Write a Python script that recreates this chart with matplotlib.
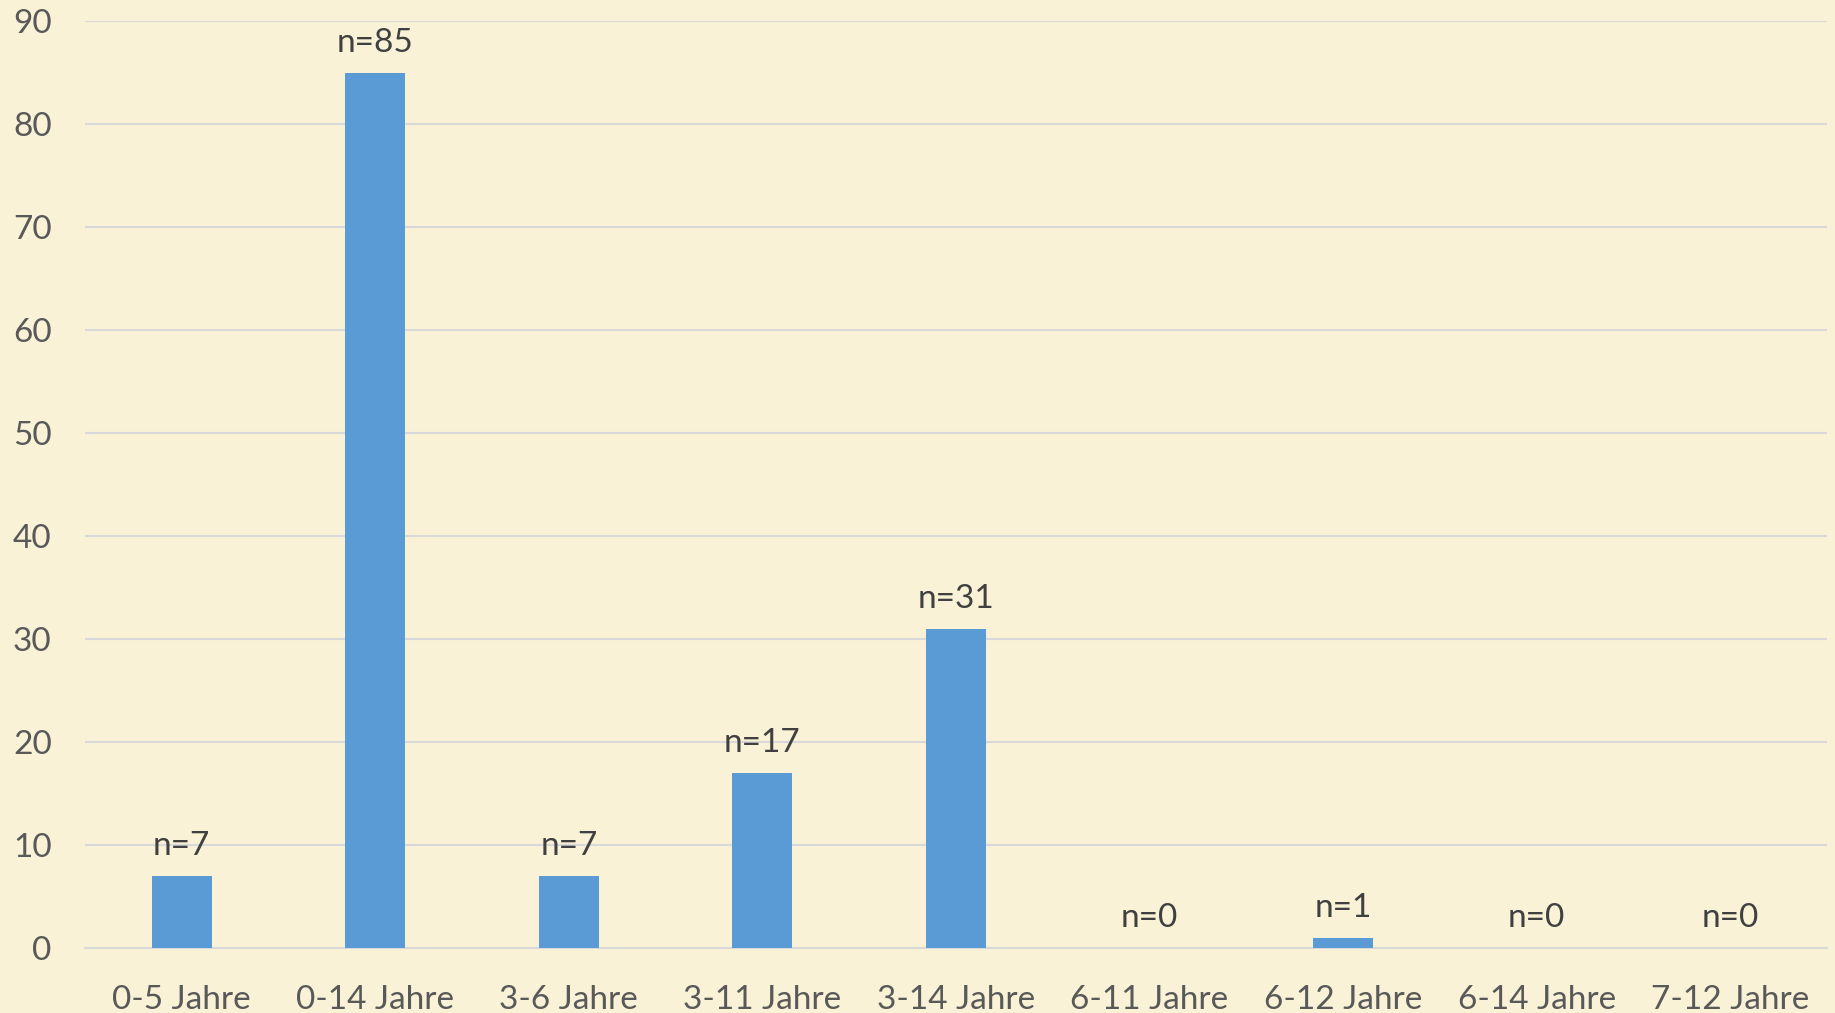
import numpy as np
import matplotlib.pyplot as plt

plt.rcParams["font.family"] = ["Lato", "DejaVu Sans"]

# Daten
categories = ["0-5 Jahre", "0-14 Jahre", "3-6 Jahre", "3-11 Jahre", "3-14 Jahre",
              "6-11 Jahre", "6-12 Jahre", "6-14 Jahre", "7-12 Jahre"]
counts = [7, 85, 7, 17, 31, 0, 1, 0, 0]
y_ticks = [0, 10, 20, 30, 40, 50, 60, 70, 80, 90]

bg = "#F9F2D6"
bar_color = "#5B9BD5"
grid_color = "#D9D9D9"

fig = plt.figure(figsize=(18.35, 10.13), dpi=100, facecolor=bg)
ax = fig.add_axes([0.0463, 0.0642, 0.9493, 0.9148], facecolor=bg)

x = np.arange(len(categories))
ax.bar(x, counts, width=0.31, color=bar_color, zorder=3)

for xi, v in zip(x, counts):
    ax.annotate(f"n={v}", (xi, v), xytext=(0, 21.5), textcoords="offset points",
                ha="center", va="center", fontsize=24, color="#404040")

ax.set_xlim(-0.5, len(categories) - 0.5)
ax.set_ylim(0, 90)
ax.set_yticks(y_ticks)
ax.set_xticks(x)
ax.set_xticklabels(categories)
ax.tick_params(axis="both", length=0, labelsize=24, labelcolor="#595959")
ax.tick_params(axis="y", pad=24)
ax.tick_params(axis="x", pad=27)
ax.grid(axis="y", color=grid_color, linewidth=1.5, zorder=0)
for s in ["top", "right", "left"]:
    ax.spines[s].set_visible(False)
ax.spines["bottom"].set_color(grid_color)
ax.spines["bottom"].set_linewidth(1.5)

fig.savefig("out.png", dpi=100, facecolor=bg)
